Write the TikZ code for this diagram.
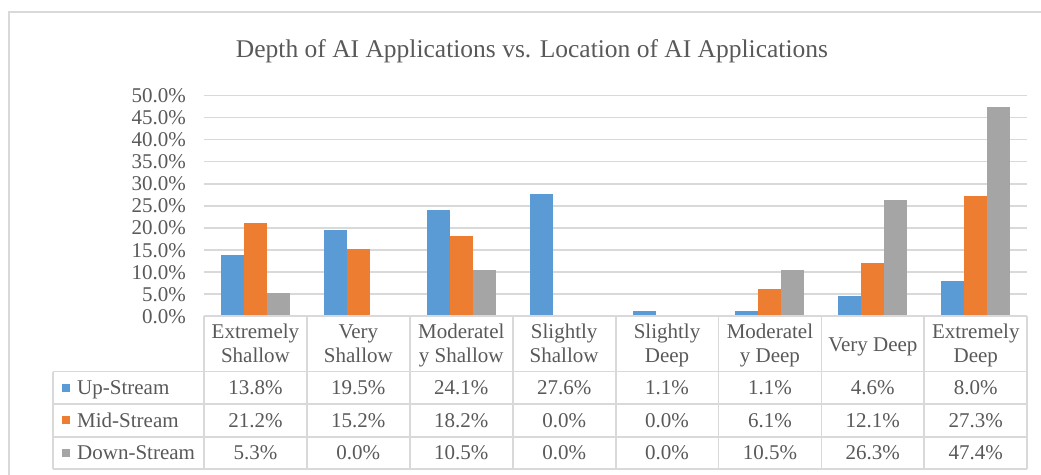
\documentclass[tikz,border=0pt]{standalone}
\usepackage{fontspec}
\setmainfont{Liberation Serif}
\definecolor{upc}{HTML}{5B9BD5}
\definecolor{midc}{HTML}{ED7D31}
\definecolor{downc}{HTML}{A5A5A5}
\definecolor{gridc}{HTML}{D9D9D9}
\definecolor{txtc}{HTML}{595959}
\tikzset{
  gridline/.style={draw=gridc, line width=1.6pt},
  tabline/.style={draw=gridc, line width=1.8pt},
  frameline/.style={draw=gridc, line width=1.6pt},
  lbl/.style={text=txtc, font=\fontsize{21}{24}\selectfont, inner sep=0pt},
  ttl/.style={text=txtc, font=\fontsize{25.5}{30}\selectfont, inner sep=0pt},
  legsq/.style={minimum size=8pt, inner sep=0pt, draw=none}
}
\begin{document}
\begin{tikzpicture}[x=1pt,y=-1pt]
\useasboundingbox (0,0) rectangle (1041,474);
% outer frame
\draw[frameline] (9,480) -- (9,12) -- (1045,12);
% title
\node[ttl, anchor=base] (title) at (532,57) {Depth of AI Applications vs. Location of AI Applications};
% gridlines
\foreach \v in {5,10,...,50}
  \draw[gridline] (204,{316.3-4.42*\v}) -- (1027,{316.3-4.42*\v});
% y labels
\foreach \v/\t in {0/0.0,5/5.0,10/10.0,15/15.0,20/20.0,25/25.0,30/30.0,35/35.0,40/40.0,45/45.0,50/50.0}
  \node[lbl, anchor=base east] (y\v) at (186,{316.3-4.42*\v+7}) {\t\%};
% bars
\foreach \k/\a/\b/\c in {0/13.8/21.2/5.3, 1/19.5/15.2/0.0, 2/24.1/18.2/10.5, 3/27.6/0.0/0.0, 4/1.1/0.0/0.0, 5/1.1/6.1/10.5, 6/4.6/12.1/26.3, 7/8.0/27.3/47.4}{
  \pgfmathsetmacro{\cx}{255.45+102.9*\k}
  \fill[upc] ({\cx-34.5},316.3) rectangle ({\cx-11.5},{316.3-4.42*\a});
  \fill[midc] ({\cx-11.5},316.3) rectangle ({\cx+11.5},{316.3-4.42*\b});
  \fill[downc] ({\cx+11.5},316.3) rectangle ({\cx+34.5},{316.3-4.42*\c});
}
% table lines
\foreach \k in {0,...,8}
  \draw[tabline] ({204+102.9*\k},316) -- ({204+102.9*\k},469);
\draw[tabline] (53,371.5) -- (53,469);
\draw[tabline] (204,316) -- (1027.2,316);
\foreach \yy in {371.5,404,436.7,469}
  \draw[tabline] (53,\yy) -- (1027.2,\yy);
% header texts
\foreach \k/\la/\lb in {0/Extremely/Shallow, 1/Very/Shallow, 2/Moderatel/y Shallow, 3/Slightly/Shallow, 4/Slightly/Deep, 5/Moderatel/y Deep, 7/Extremely/Deep}{
  \node[lbl, anchor=base] (h\k a) at ({255.45+102.9*\k},338.5) {\la};
  \node[lbl, anchor=base] (h\k b) at ({255.45+102.9*\k},362.5) {\lb};
}
\node[lbl, anchor=base] (h6) at ({255.45+102.9*6},351) {Very Deep};
% legend
\node[legsq, fill=upc] (sq1) at (66,387.7) {};
\node[legsq, fill=midc] (sq2) at (66,420.3) {};
\node[legsq, fill=downc] (sq3) at (66,452.8) {};
\node[lbl, anchor=base west] (l1) at (77,394.7) {Up-Stream};
\node[lbl, anchor=base west] (l2) at (77,427.3) {Mid-Stream};
\node[lbl, anchor=base west] (l3) at (77,459.8) {Down-Stream};
% values
\foreach \k/\a/\b/\c in {0/13.8/21.2/5.3, 1/19.5/15.2/0.0, 2/24.1/18.2/10.5, 3/27.6/0.0/0.0, 4/1.1/0.0/0.0, 5/1.1/6.1/10.5, 6/4.6/12.1/26.3, 7/8.0/27.3/47.4}{
  \node[lbl, anchor=base] (u\k) at ({255.45+102.9*\k},394.7) {\a\%};
  \node[lbl, anchor=base] (m\k) at ({255.45+102.9*\k},427.3) {\b\%};
  \node[lbl, anchor=base] (d\k) at ({255.45+102.9*\k},459.8) {\c\%};
}
\end{tikzpicture}
\end{document}
